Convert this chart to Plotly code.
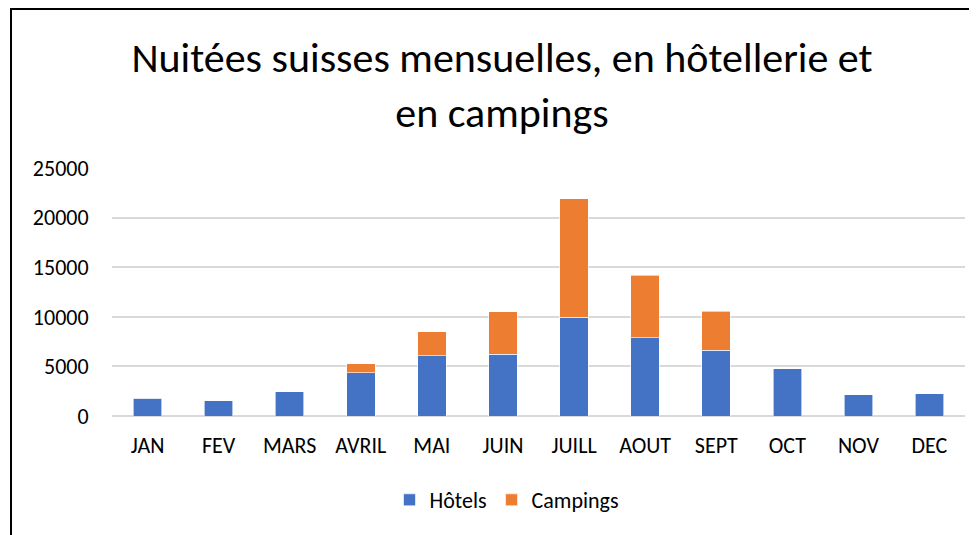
import plotly.graph_objects as go

months = ["JAN", "FEV", "MARS", "AVRIL", "MAI", "JUIN", "JUILL", "AOUT", "SEPT", "OCT", "NOV", "DEC"]
hotels = [1780, 1540, 2430, 4380, 6080, 6250, 9950, 7900, 6620, 4750, 2120, 2220]
campings = [0, 0, 0, 900, 2390, 4270, 11950, 6280, 3930, 0, 0, 0]
y_ticks = [0, 5000, 10000, 15000, 20000, 25000]
title_text = "Nuitées suisses mensuelles, en hôtellerie et<br>en campings"

FONT = "Carlito, Lato, sans-serif"
# page body has an 8px margin, so the figure is laid out 8px smaller
W, H = 969, 527
L, R, T, B = 104, 12, 160, 119

fig = go.Figure()
fig.add_trace(go.Bar(name="Hôtels", x=months, y=hotels,
                     marker=dict(color="#4472C4", line=dict(color="rgba(255,255,255,0.6)", width=1))))
fig.add_trace(go.Bar(name="Campings", x=months, y=campings,
                     marker=dict(color="#ED7D31", line=dict(color="rgba(255,255,255,0.6)", width=1))))

# chart-area border (left and top edges visible)
px_w = W - L - R
px_h = H - T - B
lx = (3 - L) / px_w
ty = (H - B - 1) / px_h
fig.add_shape(type="path", xref="paper", yref="paper",
              path=f"M {lx},-0.6 L {lx},{ty} L 1.2,{ty}",
              line=dict(color="black", width=2))

fig.update_layout(
    width=W, height=H,
    margin=dict(l=L, r=R, t=T, b=B, autoexpand=False),
    barmode="stack", bargap=0.6,
    plot_bgcolor="white", paper_bgcolor="white",
    font=dict(family=FONT, color="#000000", size=22),
    title=dict(text=title_text, xref="container", yref="container",
               x=494 / W, xanchor="center", y=1 - 64 / H, yanchor="top",
               font=dict(family=FONT, size=42, color="#000000")),
    legend=dict(orientation="h", x=499 / W, xref="container", xanchor="center",
                y=1 - 492 / H, yref="container", yanchor="middle",
                font=dict(size=22), itemwidth=30, traceorder="normal"),
    showlegend=True,
)
fig.update_xaxes(showgrid=False, showline=False, ticks="outside", ticklen=10,
                 tickcolor="rgba(0,0,0,0)", tickfont=dict(size=22))
fig.update_yaxes(range=[0, 25000], tickvals=y_ticks, tickformat="d", showgrid=True,
                 gridcolor="#d9d9d9", gridwidth=1.5, zeroline=True, zerolinecolor="#d9d9d9",
                 zerolinewidth=1.5, ticks="outside", ticklen=18, tickcolor="rgba(0,0,0,0)",
                 tickfont=dict(size=22))

fig.write_html("out.html")
